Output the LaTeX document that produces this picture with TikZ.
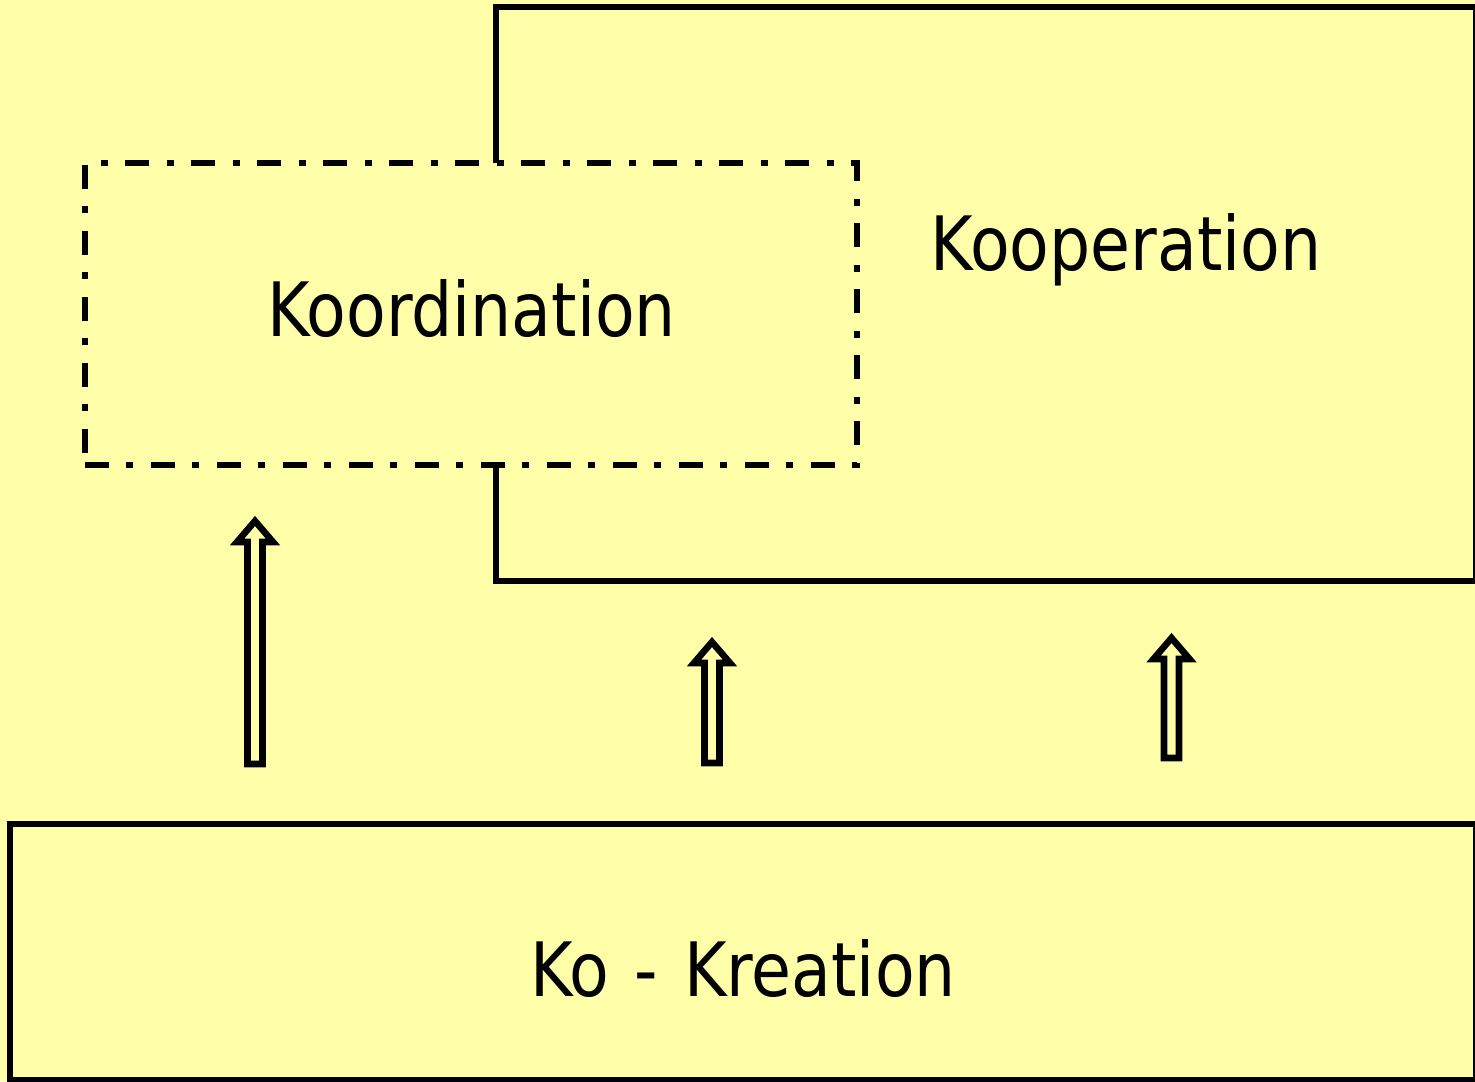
\documentclass[tikz,border=0pt]{standalone}
\usepackage{fontspec}
\newfontfamily\labelfont{DejaVu Sans}[FakeStretch=0.865]
\usetikzlibrary{calc}
\definecolor{paper}{RGB}{255,255,170}

% hollow block arrow from tail coordinate #1 up to tip coordinate #2
\newcommand{\blockarrow}[2]{%
  \draw[arrowline]
    ($(#1)+(-7.5,0)$) -- ($(#2)+(-7.5,21)$) -- ($(#2)+(-18,21)$) -- (#2)
    -- ($(#2)+(18,21)$) -- ($(#2)+(7.5,21)$) -- ($(#1)+(7.5,0)$) -- cycle;}

\begin{document}
\begin{tikzpicture}[x=0.5pt,y=-0.5pt,
  box/.style={draw=black,line width=3pt,fill=paper,inner sep=0pt,
    rectangle,line join=miter},
  dashbox/.style={box,dash pattern=on 12pt off 8.5pt on 3.5pt off 9pt},
  boxtext/.style={font=\labelfont\fontsize{37.5pt}{45pt}\selectfont,
    inner sep=0pt,anchor=base,text=black},
  arrowline/.style={draw=black,line width=3.3pt,fill=paper,line join=miter,
    miter limit=10}]

  % page background
  \fill[paper] (0,0) rectangle (1475,1081);
  \useasboundingbox (0,0) rectangle (1475,1081);

  % boxes
  \node[box,minimum width=490.25pt,minimum height=287pt] (koop) at (985.75,294) {};
  \node[dashbox,minimum width=386pt,minimum height=151pt] (koord) at (471,314) {};
  \node[box,minimum width=733pt,minimum height=128pt] (krea) at (743,952) {};

  % labels
  \node[boxtext] (kooptext) at (1126,270) {Kooperation};
  \node[boxtext] (koordtext) at (471.5,336) {Koordination};
  \node[boxtext] (kreatext) at (743,996) {Ko\hspace{2.5pt} -\hspace{2.5pt} Kreation};

  % arrows from Ko-Kreation upwards
  \coordinate (tailA) at (255,764);
  \coordinate (tipA) at (255,521);
  \coordinate (tailB) at (712,763);
  \coordinate (tipB) at (712,642);
  \coordinate (tailC) at (1171.5,758);
  \coordinate (tipC) at (1171.5,638);
  \blockarrow{tailA}{tipA}
  \blockarrow{tailB}{tipB}
  \blockarrow{tailC}{tipC}
\end{tikzpicture}
\end{document}
